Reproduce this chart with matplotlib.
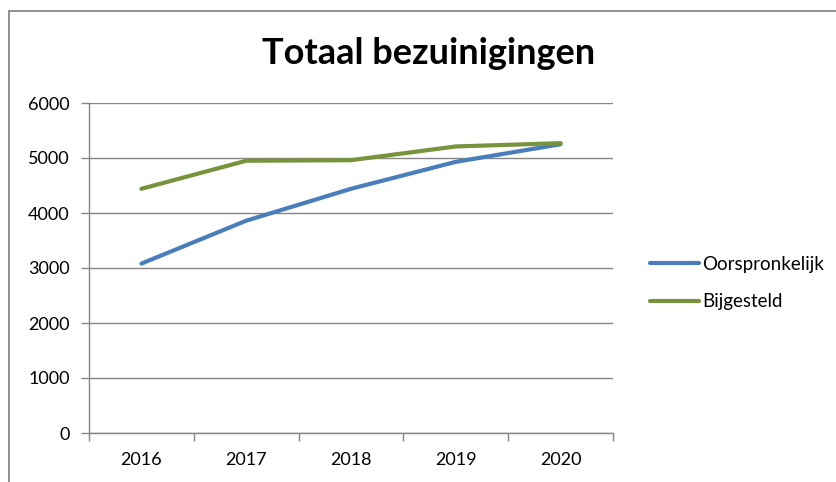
import matplotlib
matplotlib.use("Agg")
import matplotlib.pyplot as plt
from matplotlib.patches import Rectangle

years = ["2016", "2017", "2018", "2019", "2020"]
oorspronkelijk = [3080, 3860, 4440, 4930, 5250]
bijgesteld = [4440, 4950, 4960, 5210, 5270]
yticks = [0, 1000, 2000, 3000, 4000, 5000, 6000]

plt.rcParams["font.family"] = ["Lato", "DejaVu Sans"]

W, H = 837, 482
fig = plt.figure(figsize=(W / 100, H / 100), dpi=100)

# chart frame (only left and top edges visible in the crop)
fig.patches.append(Rectangle((9 / W, -0.1), 1.2, (H - 11) / H + 0.1,
                             transform=fig.transFigure, fill=False,
                             edgecolor="#878787", linewidth=1.3))

ax = fig.add_axes([89 / W, (H - 433) / H, (613 - 89) / W, (433 - 103) / H])

x = list(range(len(years)))
ax.plot(x, oorspronkelijk, color="#4A7EBB", linewidth=3, label="Oorspronkelijk",
        solid_capstyle="round", zorder=3)
ax.plot(x, bijgesteld, color="#77933C", linewidth=3, label="Bijgesteld",
        solid_capstyle="round", zorder=3)

ax.set_xlim(-0.5, len(years) - 0.5)
ax.set_ylim(0, 6000)
ax.set_yticks(yticks)
ax.set_yticklabels([str(v) for v in yticks])
ax.yaxis.grid(True, color="#868686", linewidth=1)
ax.set_axisbelow(True)

# category labels centered, tick marks on category boundaries
ax.set_xticks(x)
ax.set_xticklabels(years)
ax.set_xticks([i - 0.5 for i in range(len(years) + 1)], minor=True)
ax.tick_params(axis="x", which="major", length=0, pad=14, labelsize=13)
ax.tick_params(axis="x", which="minor", length=6, color="#868686", width=1)
ax.tick_params(axis="y", length=6, color="#868686", width=1, labelsize=13, pad=8)

for side in ["top", "right"]:
    ax.spines[side].set_visible(False)
for side in ["left", "bottom"]:
    ax.spines[side].set_color("#868686")
    ax.spines[side].set_linewidth(1)

fig.text(429 / W, (H - 53) / H, "Totaal bezuinigingen", ha="center", va="center",
         fontsize=26, fontweight="bold")

fig.legend(loc="center left", bbox_to_anchor=(633 / W, (H - 283) / H),
           frameon=False, fontsize=13.5, handlelength=2.6, handletextpad=0.2,
           labelspacing=1.1)

fig.savefig("out.png", dpi=100)
